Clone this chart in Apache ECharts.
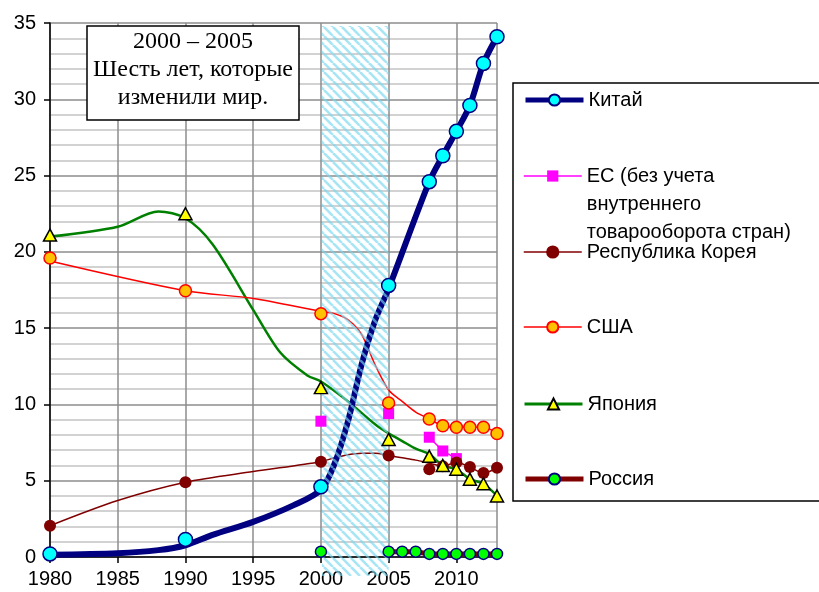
<!DOCTYPE html>
<html><head><meta charset="utf-8">
<script src="https://cdn.jsdelivr.net/npm/echarts@6/dist/echarts.min.js"></script>
<style>html,body{margin:0;padding:0;background:#fff}#c{width:819px;height:592px}</style>
</head><body><div id="c"></div>
<script>
// ---- data ----
const markerYears = [1980, 1990, 2000, 2005, 2008, 2009, 2010, 2011, 2012, 2013];
const chinaMarkers = [0.2, 1.15, 4.6, 17.8, 24.6, 26.3, 27.9, 29.6, 32.35, 34.1];
const usaMarkers = [19.6, 17.45, 15.95, 10.1, 9.05, 8.6, 8.5, 8.5, 8.5, 8.1];
const japanMarkers = [21.1, 22.5, 11.1, 7.7, 6.6, 6.0, 5.75, 5.1, 4.8, 4.0];
const koreaMarkers = [2.05, 4.9, 6.25, 6.65, 5.75, 5.95, 6.2, 5.9, 5.5, 5.85];

const chinaLineYears = [1980, 1985, 1988, 1990, 1992, 1995, 1998, 2000, 2001, 2002, 2003, 2004, 2005, 2008, 2009, 2010, 2011, 2012, 2013];
const chinaLineValues = [0.15, 0.25, 0.45, 0.77, 1.45, 2.3, 3.4, 4.4, 6.1, 8.9, 12.6, 15.5, 17.6, 24.6, 26.3, 27.9, 29.6, 32.35, 34.1];

const japanLineYears = [1980, 1985, 1988, 1990, 1992, 1995, 1997, 1999, 2000, 2002, 2004, 2005, 2006, 2007, 2008, 2009, 2010, 2011, 2012, 2013];
const japanLineValues = [21.0, 21.65, 22.65, 22.2, 20.5, 16.2, 13.4, 11.9, 11.5, 10.2, 8.7, 8.1, 7.6, 7.1, 6.75, 6.0, 5.75, 5.1, 4.8, 4.0];

const usaLineYears = [1980, 1990, 1995, 2000, 2001, 2002, 2003, 2004, 2005, 2006, 2007, 2008, 2009, 2010, 2011, 2012, 2013];
const usaLineValues = [19.4, 17.45, 16.95, 16.1, 15.95, 15.55, 14.6, 12.6, 10.95, 10.2, 9.5, 9.05, 8.6, 8.5, 8.5, 8.5, 8.1];

const koreaLineYears = [1980, 1985, 1990, 1995, 2000, 2001, 2002, 2003, 2004, 2005, 2006, 2007, 2008, 2009, 2010, 2011, 2012, 2013];
const koreaLineValues = [2.05, 3.7, 4.9, 5.6, 6.25, 6.5, 6.7, 6.8, 6.8, 6.65, 6.5, 6.35, 6.15, 5.95, 6.2, 5.9, 5.5, 5.85];

const euYears = [2000, 2001, 2002, 2003, 2004, 2005, 2006, 2007, 2008, 2009, 2010];
const euValues = [8.9, null, null, null, null, 9.4, null, null, 7.85, 6.95, 6.45];

const russiaYears = [2000, 2001, 2002, 2003, 2004, 2005, 2006, 2007, 2008, 2009, 2010, 2011, 2012, 2013];
const russiaValues = [0.35, null, null, null, null, 0.35, 0.35, 0.35, 0.2, 0.2, 0.2, 0.2, 0.2, 0.2];

const highlightYears = [2000, 2005];
const yTicks = [0, 35];

const names = {
  china: 'Китай',
  eu: 'ЕС (без учета внутреннего товарооборота стран)',
  korea: 'Республика Корея',
  usa: 'США',
  japan: 'Япония',
  russia: 'Россия'
};
const euLabelLines = ['ЕС (без учета', 'внутреннего', 'товарооборота стран)'];
const noteText = '2000 – 2005\nШесть лет, которые\nизменили мир.';

const pairs = (xs, ys) => xs.map((x, i) => [x, ys[i]]);

const FONT = '"Liberation Sans", Arial, sans-serif';

function legendFor(name, top, lineW, lineColor, extraText, fmt) {
  return {
    data: [{ name: name, lineStyle: { width: lineW, color: lineColor } }],
    left: 523, top: top, padding: 0, orient: 'vertical',
    itemWidth: 58, itemHeight: 14, selectedMode: false,
    formatter: fmt,
    textStyle: Object.assign({ fontFamily: FONT, fontSize: 20, color: '#000', lineHeight: 24 }, extraText || {})
  };
}

const chart = echarts.init(document.getElementById('c'), null, { renderer: 'canvas' });

const SM = 0.3;
const option = {
  animation: false,
  backgroundColor: '#fff',
  grid: { left: 50, right: 322, top: 23, bottom: 35, containLabel: false },
  xAxis: {
    type: 'value', min: 1980, max: 2013, interval: 5,
    axisLine: { show: true, onZero: false, lineStyle: { color: '#000', width: 1.5 } },
    axisTick: { show: true, inside: false, length: 6, lineStyle: { color: '#000', width: 1.5 } },
    axisLabel: { fontFamily: FONT, fontSize: 20, color: '#000', margin: 12, showMaxLabel: false, formatter: v => String(v) },
    splitLine: { show: true, lineStyle: { color: '#8c8c8c', width: 1.5 } }
  },
  yAxis: {
    type: 'value', min: yTicks[0], max: yTicks[1], interval: 5,
    axisLine: { show: true, onZero: false, lineStyle: { color: '#000', width: 1.5 } },
    axisTick: { show: true, inside: false, length: 6, lineStyle: { color: '#000', width: 1.5 } },
    axisLabel: { fontFamily: FONT, fontSize: 20, color: '#000', margin: 14 },
    splitLine: { show: true, lineStyle: { color: '#8c8c8c', width: 1.5 } },
    minorTick: { show: false, splitNumber: 5 },
    minorSplitLine: { show: true, lineStyle: { color: '#c4c4c4', width: 1.5 } }
  },
  legend: [
    legendFor(names.china, 88, 5, '#000080'),
    legendFor(names.eu, 106, 1.5, '#ff00ff', { lineHeight: 28 }, () => '\n\n' + euLabelLines.join('\n')),
    legendFor(names.korea, 240, 1.5, '#800000'),
    legendFor(names.usa, 315, 1.5, '#ff0000'),
    legendFor(names.japan, 392, 3, '#008000'),
    legendFor(names.russia, 467, 5, '#800000')
  ],
  series: [
    { name: names.china, type: 'line', smooth: SM, showSymbol: false, symbol: 'circle',
      data: pairs(chinaLineYears, chinaLineValues), z: 3,
      itemStyle: { color: '#00ffff', borderColor: '#000080', borderWidth: 1.5 },
      lineStyle: { color: '#000080', width: 6 } },
    { name: names.japan, type: 'line', smooth: SM, showSymbol: false, symbol: 'triangle',
      data: pairs(japanLineYears, japanLineValues), z: 2,
      itemStyle: { color: '#ffff00', borderColor: '#000', borderWidth: 1.5 },
      lineStyle: { color: '#008000', width: 2.5 } },
    { name: names.usa, type: 'line', smooth: SM, showSymbol: false, symbol: 'circle',
      data: pairs(usaLineYears, usaLineValues), z: 2,
      itemStyle: { color: '#ffc000', borderColor: '#ff0000', borderWidth: 1.5 },
      lineStyle: { color: '#ff0000', width: 1.5 } },
    { name: names.korea, type: 'line', smooth: SM, showSymbol: false, symbol: 'circle',
      data: pairs(koreaLineYears, koreaLineValues), z: 2,
      itemStyle: { color: '#800000', borderColor: '#800000', borderWidth: 1 },
      lineStyle: { color: '#800000', width: 1.5 } },
    { name: names.eu, type: 'line', symbol: 'rect', symbolSize: 11, showSymbol: true, showAllSymbol: true, connectNulls: false,
      data: pairs(euYears, euValues), z: 20,
      itemStyle: { color: '#ff00ff', borderWidth: 0 },
      lineStyle: { color: '#ff00ff', width: 1.5 } },
    { name: names.russia, type: 'line', symbol: 'circle', symbolSize: 11, showSymbol: true, showAllSymbol: true, connectNulls: false,
      data: pairs(russiaYears, russiaValues), z: 20,
      itemStyle: { color: '#00ff00', borderColor: '#000080', borderWidth: 1.5 },
      lineStyle: { color: '#800000', width: 5 } },
    { name: names.korea, type: 'scatter', symbol: 'circle', symbolSize: 12, data: pairs(markerYears, koreaMarkers), z: 21,
      itemStyle: { color: '#800000', opacity: 1 } },
    { name: names.usa, type: 'scatter', symbol: 'circle', symbolSize: 12, data: pairs(markerYears, usaMarkers), z: 21,
      itemStyle: { color: '#ffc000', borderColor: '#ff0000', borderWidth: 1.5, opacity: 1 } },
    { name: names.japan, type: 'scatter', symbol: 'triangle', symbolSize: [13, 12], data: pairs(markerYears, japanMarkers), z: 22,
      itemStyle: { color: '#ffff00', borderColor: '#000', borderWidth: 1.5, opacity: 1 } },
    { name: names.china, type: 'scatter', symbol: 'circle', symbolSize: 14, data: pairs(markerYears, chinaMarkers), z: 23,
      itemStyle: { color: '#00ffff', borderColor: '#000080', borderWidth: 1.5, opacity: 1 } }
  ],
  graphic: [
    { id: 'legendBox', type: 'rect', z: 1, shape: { x: 513, y: 83, width: 320, height: 418 },
      style: { fill: 'none', stroke: '#000', lineWidth: 1.5 } },
    { id: 'noteBox', type: 'rect', z: 30, shape: { x: 87, y: 26, width: 212, height: 94 },
      style: { fill: '#fff', stroke: '#000', lineWidth: 1.5 } },
    { id: 'noteText', type: 'text', z: 31, x: 193, y: 28,
      style: { text: noteText, align: 'center', verticalAlign: 'top', fill: '#000',
        font: '24px "Liberation Serif", "Times New Roman", serif', lineHeight: 28 } }
  ]
};
chart.setOption(option);

// hatched 2000–2005 band, positioned through the axis scales
const cv = document.createElement('canvas');
cv.width = 9; cv.height = 9;
const ctx = cv.getContext('2d');
ctx.strokeStyle = 'rgba(120,215,240,0.65)';
ctx.lineWidth = 2.6;
for (let k = -1; k <= 1; k++) {
  ctx.beginPath();
  ctx.moveTo(k * 9, 0);
  ctx.lineTo(k * 9 + 9, 9);
  ctx.stroke();
}
const pA = chart.convertToPixel({ gridIndex: 0 }, [highlightYears[0], yTicks[1]]);
const pB = chart.convertToPixel({ gridIndex: 0 }, [highlightYears[1], yTicks[0]]);
chart.setOption({
  graphic: [
    { id: 'hatch', type: 'rect', z: 10,
      shape: { x: pA[0] + 1, y: pA[1] + 3, width: pB[0] - pA[0] - 1, height: pB[1] - pA[1] + 16 },
      style: { fill: { image: cv, repeat: 'repeat' } } }
  ]
});
</script></body></html>
